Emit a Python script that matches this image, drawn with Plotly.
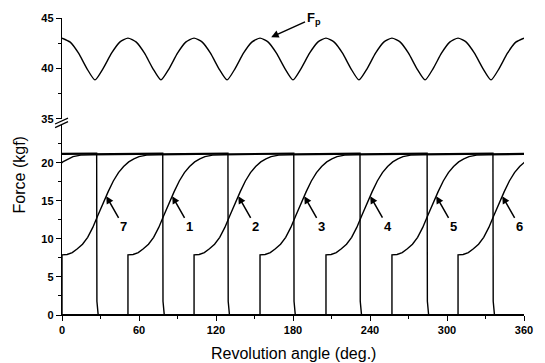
import plotly.graph_objects as go

# ---------------- data ----------------
ANGLE_TICKS = [0, 60, 120, 180, 240, 300, 360]
FORCE_TICKS_LOW = [0, 5, 10, 15, 20]
FORCE_TICKS_HIGH = [35, 40, 45]

# total piston force F_p (upper panel)
FP_DEG = [0.0, 6.4, 12.9, 19.3, 25.7, 32.1, 38.6, 45.0,
          51.4, 57.9, 64.3, 70.7, 77.1, 83.6, 90.0, 96.4,
          102.9, 109.3, 115.7, 122.1, 128.6, 135.0, 141.4, 147.9,
          154.3, 160.7, 167.1, 173.6, 180.0, 186.4, 192.9, 199.3,
          205.7, 212.1, 218.6, 225.0, 231.4, 237.9, 244.3, 250.7,
          257.1, 263.6, 270.0, 276.4, 282.9, 289.3, 295.7, 302.1,
          308.6, 315.0, 321.4, 327.9, 334.3, 340.7, 347.1, 353.6, 360.0]
FP_KGF = [43.0, 42.6, 41.5, 40.0, 38.85, 40.0, 41.5, 42.6,
          43.0, 42.6, 41.5, 40.0, 38.85, 40.0, 41.5, 42.6,
          43.0, 42.6, 41.5, 40.0, 38.85, 40.0, 41.5, 42.6,
          43.0, 42.6, 41.5, 40.0, 38.85, 40.0, 41.5, 42.6,
          43.0, 42.6, 41.5, 40.0, 38.85, 40.0, 41.5, 42.6,
          43.0, 42.6, 41.5, 40.0, 38.85, 40.0, 41.5, 42.6,
          43.0, 42.6, 41.5, 40.0, 38.85, 40.0, 41.5, 42.6, 43.0]

# individual cylinder forces 1..7
CYL_LABELS = ["1", "2", "3", "4", "5", "6", "7"]
RISE_DEG = [51.4, 102.9, 154.3, 205.7, 257.1, 308.6, 0.0]
DROP_DEG = [232.2, 284.5, 335.8, 27.0, 78.5, 129.3, 180.6]
# force profile after the jump (offset from rise angle)
RISE_OFF_DEG = [0, 0, 4, 8, 12, 16, 20, 24, 28, 32, 36, 40, 44, 48, 52, 56, 60, 66, 75]
RISE_KGF = [0.0, 7.9, 7.95, 8.2, 8.7, 9.3, 10.2, 11.5, 13.1, 14.7, 16.2, 17.6,
            18.7, 19.5, 20.1, 20.5, 20.8, 21.0, 21.05]
# drop profile (offset from drop angle)
DROP_OFF_DEG = [0.0, 0.2, 1.2]
DROP_KGF = [21.25, 1.8, 0.0]

# ---------------- figure ----------------
LINE = dict(color="black", width=1.4)
fig = go.Figure()

fig.add_trace(go.Scatter(x=FP_DEG, y=FP_KGF, mode="lines",
                         line=dict(color="black", width=1.4, shape="spline", smoothing=0.6),
                         yaxis="y2", showlegend=False, hoverinfo="skip"))

for lab, r, d in zip(CYL_LABELS, RISE_DEG, DROP_DEG):
    dd = d if d > r else d + 360
    xs = [r + o for o in RISE_OFF_DEG] + [dd + o for o in DROP_OFF_DEG] + [r + 360]
    ys = RISE_KGF + DROP_KGF + [0.0]
    x_all = xs + [None] + [v - 360 for v in xs]
    y_all = ys + [None] + ys
    fig.add_trace(go.Scatter(x=x_all, y=y_all, mode="lines", line=LINE,
                             showlegend=False, hoverinfo="skip", name=lab))

# labels with arrows
HEAD_OFF, HEAD_KGF = 34.5, 15.6
TEXT_OFF, TEXT_KGF = 48.0, 11.6
FONT = "Liberation Sans, Arial"
annotations = []
for lab, r in zip(CYL_LABELS, RISE_DEG):
    annotations.append(dict(
        x=r + HEAD_OFF, y=HEAD_KGF, xref="x", yref="y",
        ax=r + TEXT_OFF, ay=TEXT_KGF, axref="x", ayref="y",
        text="<b>%s</b>" % lab, showarrow=True, arrowhead=2, arrowsize=1,
        arrowwidth=1.5, arrowcolor="black", standoff=0,
        font=dict(family=FONT, size=13, color="black")))

annotations.append(dict(
    x=163, y=43.1, xref="x", yref="y2",
    ax=196, ay=45.0, axref="x", ayref="y2",
    text="<b>F<sub>p</sub></b>", showarrow=True, arrowhead=2, arrowsize=1,
    arrowwidth=1.5, arrowcolor="black", standoff=0,
    font=dict(family=FONT, size=13, color="black")))

annotations.append(dict(
    x=0.5, y=-0.131, xref="paper", yref="paper", showarrow=False,
    text="Revolution angle (deg.)", yanchor="middle",
    font=dict(family=FONT, size=16, color="black")))
annotations.append(dict(
    x=-0.093, y=0.47, xref="paper", yref="paper", showarrow=False,
    text="Force (kgf)", textangle=-90, xanchor="center", yanchor="middle",
    font=dict(family=FONT, size=16, color="black")))

tickfont = dict(family=FONT, size=11, color="black", weight="bold")
axis_common = dict(showline=True, linecolor="black", linewidth=1.4, showgrid=False,
                   zeroline=False, ticks="outside", ticklen=5, tickwidth=1.3,
                   tickcolor="black", tickfont=tickfont)

fig.update_layout(
    width=545, height=363,
    margin=dict(l=62, r=15, t=17, b=48),
    paper_bgcolor="white", plot_bgcolor="white",
    xaxis=dict(range=[0, 360], tickvals=ANGLE_TICKS, anchor="y",
               minor=dict(tickvals=[30, 90, 150, 210, 270, 330], ticks="outside",
                          ticklen=3, tickcolor="black"),
               **axis_common),
    yaxis=dict(range=[0, 25], tickvals=FORCE_TICKS_LOW, domain=[0, 0.641],
               minor=dict(tickvals=[2.5, 7.5, 12.5, 17.5, 22.5], ticks="outside",
                          ticklen=3, tickcolor="black"),
               **axis_common),
    yaxis2=dict(range=[35, 45], tickvals=FORCE_TICKS_HIGH, domain=[0.661, 1],
                anchor="x",
                minor=dict(tickvals=[37.5, 42.5], ticks="outside",
                           ticklen=3, tickcolor="black"),
                **axis_common),
    annotations=annotations,
    shapes=[
        dict(type="line", xref="paper", yref="paper", x0=-0.015, y0=0.643,
             x1=0.013, y1=0.663, line=dict(color="black", width=1.3)),
        dict(type="line", xref="paper", yref="paper", x0=-0.015, y0=0.631,
             x1=0.013, y1=0.651, line=dict(color="black", width=1.3)),
    ],
)

fig.write_html("out.html")
